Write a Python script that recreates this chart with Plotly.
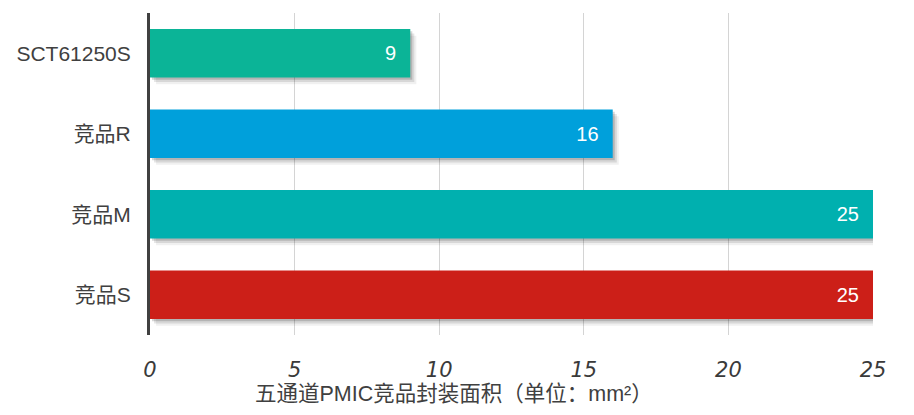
import plotly.graph_objects as go

categories = ["SCT61250S", "竞品R", "竞品M", "竞品S"]
values = [9, 16, 25, 25]
colors = ["#0BB497", "#00A0DB", "#00B0AF", "#CC1F18"]
tick_vals = [0, 5, 10, 15, 20, 25]
axis_title = "五通道PMIC竞品封装面积（单位：mm²）"

fig = go.Figure()

# soft drop shadow layers (below and right of each bar)
shadow_alphas = [0.16, 0.10, 0.06]
for i, a in enumerate(shadow_alphas):
    fig.add_trace(go.Bar(
        y=categories, x=values, orientation="h",
        base=[0.07 * (i + 1)] * len(values),
        width=0.6, offset=-0.3 + 0.028 * (i + 1),
        marker=dict(color=f"rgba(0,0,0,{a})", line=dict(width=0)),
        hoverinfo="skip", showlegend=False,
    ))

fig.add_trace(go.Bar(
    y=categories, x=values, orientation="h",
    width=0.6, offset=-0.3,
    marker=dict(color=colors, line=dict(width=0)),
    text=[f"{v}\u00a0\u00a0" for v in values], textposition="inside",
    insidetextanchor="end",
    textfont=dict(color="white", size=20, family="Liberation Sans, Arial"),
    showlegend=False,
))

fig.add_annotation(
    text=axis_title, xref="paper", yref="paper",
    x=0.42, y=-0.182, xanchor="center", yanchor="middle",
    showarrow=False,
    font=dict(size=21.5, family="Liberation Sans, Noto Sans CJK SC", color="#404040"),
)

fig.update_layout(
    width=898, height=399,
    margin=dict(l=142, r=33, t=5, b=72, autoexpand=False),
    barmode="overlay",
    plot_bgcolor="white", paper_bgcolor="white",
    font=dict(family="Liberation Sans, Noto Sans CJK SC", color="#404040"),
    uniformtext=dict(mode="show", minsize=20),
    xaxis=dict(
        range=[0, 25], tickvals=tick_vals,
        showgrid=True, gridcolor="#D4D4D4", gridwidth=1,
        zeroline=False, showline=False, automargin=False,
        tickfont=dict(size=21, family="DejaVu Sans", style="italic", color="#3A3A3A"),
        ticks="", ticklabelstandoff=20,
    ),
    yaxis=dict(
        categoryorder="array", categoryarray=categories,
        autorange="reversed", automargin=False,
        showline=True, linecolor="#404040", linewidth=3,
        tickfont=dict(size=21, family="Liberation Sans, Noto Sans CJK SC", color="#404040"),
        ticks="", ticklabelstandoff=12,
        showgrid=False,
    ),
)

fig.write_html("out.html")
